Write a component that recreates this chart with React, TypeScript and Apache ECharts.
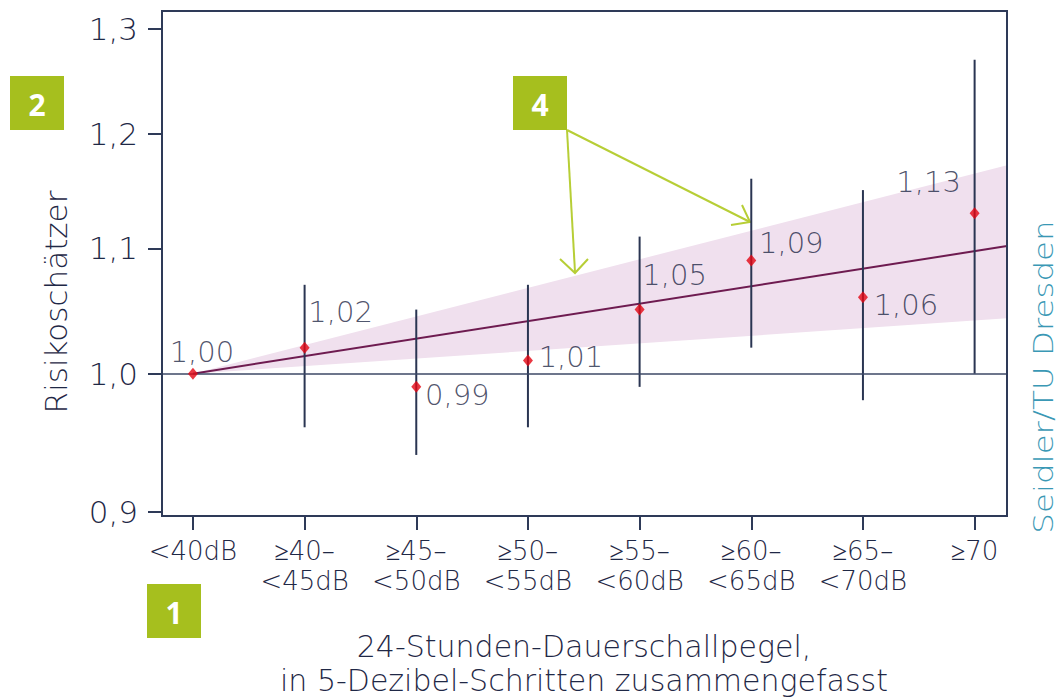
import React, { useEffect, useRef } from 'react';
import * as echarts from 'echarts';

const categories = ['<40dB', '≥40–\n<45dB', '≥45–\n<50dB', '≥50–\n<55dB', '≥55–\n<60dB', '≥60–\n<65dB', '≥65–\n<70dB', '≥70'];
const estimates = [1.0, 1.02, 0.99, 1.01, 1.05, 1.09, 1.06, 1.13];
const ciLower: (number | null)[] = [null, 0.96, 0.94, 0.96, 0.99, 1.02, 0.98, 1.0];
const ciUpper: (number | null)[] = [null, 1.07, 1.05, 1.07, 1.11, 1.16, 1.15, 1.27];
const yTicks = [0.9, 1.0, 1.1, 1.2, 1.3];
const trendX = [0, 7.29];
const trendValues = [1.0, 1.102];
const bandLower = [1.0, 1.043];
const bandUpper = [1.0, 1.172];
const yMin = 0.8973;
const yMax = 1.318;
const xMin = -0.277;
const xMax = 7.29;

const TEXT = '#1f2846';
const AXIS = '#2e3a58';
const FONT = 'DejaVu Sans';
const WEIGHT = 300;
const GREEN = '#a6bf1e';
const ARROW = '#b7ce36';

const labelOffsets: [number, number][] = [
  [9, -22], [36, -36], [41, 8], [43, -4], [35, -35], [40, -17], [43, 8], [-46, -31],
];

function fmt(v: number) {
  return v.toFixed(2).replace('.', ',');
}

function box(x: number, y: number, t: string) {
  return {
    type: 'group',
    x,
    y,
    children: [
      { type: 'rect', shape: { x: 0, y: 0, width: 54, height: 54 }, style: { fill: GREEN } },
      {
        type: 'text',
        x: 27,
        y: 28,
        style: { text: t, fill: '#ffffff', font: `bold 30px "Noto Sans"`, align: 'center', verticalAlign: 'middle' },
      },
    ],
  };
}

export default function App() {
  const ref = useRef<HTMLDivElement>(null);
  useEffect(() => {
    if (!ref.current) return;
    const chart = echarts.init(ref.current, null, { renderer: 'svg' });
    const ln = Math.log;
    const bandData = trendX.map((x, i) => [x, ln(bandLower[i]), ln(bandUpper[i])]);
    const option: any = {
      animation: false,
      backgroundColor: '#ffffff',
      grid: { left: 162, top: 11, right: 53, bottom: 183, show: true, borderColor: AXIS, borderWidth: 2, backgroundColor: 'transparent', z: 10 },
      xAxis: {
        type: 'value',
        min: xMin,
        max: xMax,
        splitLine: { show: false },
        axisLine: { show: false, onZero: false },
        axisTick: { show: true, customValues: categories.map((_, i) => i), length: 14, lineStyle: { color: AXIS, width: 2 } },
        axisLabel: {
          customValues: categories.map((_, i) => i),
          formatter: (v: number) => categories[Math.round(v)] ?? '',
          color: TEXT,
          fontFamily: FONT,
          fontWeight: WEIGHT,
          fontSize: 26,
          lineHeight: 30,
          margin: 20,
          align: 'center',
        },
      },
      yAxis: {
        type: 'value',
        min: ln(yMin),
        max: ln(yMax),
        splitLine: { show: false },
        axisLine: { show: false, onZero: false },
        axisTick: { show: true, customValues: yTicks.map((v) => ln(v)), length: 14, lineStyle: { color: AXIS, width: 2 } },
        axisLabel: {
          customValues: yTicks.map((v) => ln(v)),
          formatter: (v: number) => Math.exp(v).toFixed(1).replace('.', ','),
          color: TEXT,
          fontFamily: FONT,
          fontWeight: WEIGHT,
          fontSize: 31,
          margin: 24,
        },
      },
      graphic: [
        {
          type: 'text',
          x: 56,
          y: 302,
          rotation: Math.PI / 2,
          style: { text: 'Risikoschätzer', fill: TEXT, font: `${WEIGHT} 31px "${FONT}"`, align: 'center', verticalAlign: 'middle' },
        },
        {
          type: 'text',
          x: 1044,
          y: 377,
          rotation: Math.PI / 2,
          scaleX: 1.25,
          style: { text: 'Seidler/TU Dresden', fill: '#3a98b5', font: `${WEIGHT} 26px "${FONT}"`, align: 'center', verticalAlign: 'middle' },
        },
        {
          type: 'text',
          x: 584,
          y: 663,
          style: {
            text: '24-Stunden-Dauerschallpegel,\nin 5-Dezibel-Schritten zusammengefasst',
            fill: TEXT,
            font: `${WEIGHT} 30px "${FONT}"`,
            lineHeight: 34,
            align: 'center',
            verticalAlign: 'middle',
          },
        },
        box(10, 76, '2'),
        box(147, 584, '1'),
        box(513, 76, '4'),
        box(883, 216, '3'),
        { type: 'line', shape: { x1: 567, y1: 130, x2: 575, y2: 272 }, style: { stroke: ARROW, lineWidth: 2 } },
        { type: 'polyline', shape: { points: [[560, 259], [575, 273], [588, 259]] }, style: { stroke: ARROW, lineWidth: 2, fill: 'none' } },
        { type: 'line', shape: { x1: 567, y1: 130, x2: 750, y2: 222 }, style: { stroke: ARROW, lineWidth: 2 } },
        { type: 'polyline', shape: { points: [[742, 205], [750, 222], [731, 225]] }, style: { stroke: ARROW, lineWidth: 2, fill: 'none' } },
      ],
      series: [
        {
          type: 'custom',
          name: 'band',
          silent: true,
          encode: { x: 0, y: [1, 2] },
          data: bandData,
          renderItem: (params: any, api: any) => {
            if (params.dataIndex !== 0) return null;
            const upper = bandData.map((d) => api.coord([d[0], d[2]]));
            const lower = bandData.map((d) => api.coord([d[0], d[1]])).reverse();
            return {
              type: 'polygon',
              shape: { points: upper.concat(lower) },
              style: { fill: '#f0e0ee', stroke: 'none' },
            };
          },
          z: 1,
        },
        {
          type: 'line',
          name: 'trend',
          symbol: 'none',
          silent: true,
          lineStyle: { color: '#6e1b50', width: 2 },
          data: trendX.map((x, i) => [x, ln(trendValues[i])]),
          markLine: {
            silent: true,
            symbol: 'none',
            label: { show: false },
            lineStyle: { color: '#3d4866', width: 1.5, type: 'solid' },
            data: [{ yAxis: 0 }],
          },
          z: 3,
        },
        {
          type: 'custom',
          name: 'ci',
          silent: true,
          encode: { x: 0, y: [1, 2] },
          data: estimates
            .map((_, i) => (ciLower[i] == null ? null : [i, ln(ciLower[i] as number), ln(ciUpper[i] as number)]))
            .filter((d) => d !== null),
          renderItem: (params: any, api: any) => {
            const p1 = api.coord([api.value(0), api.value(1)]);
            const p2 = api.coord([api.value(0), api.value(2)]);
            return {
              type: 'line',
              shape: { x1: p1[0], y1: p1[1], x2: p2[0], y2: p2[1] },
              style: { stroke: '#2a3552', lineWidth: 2 },
            };
          },
          z: 4,
        },
        {
          type: 'scatter',
          name: 'estimates',
          symbol: 'diamond',
          symbolSize: [10, 12],
          itemStyle: { color: '#e30613' },
          data: estimates.map((v, i) => ({
            value: [i, ln(v)],
            label: {
              show: true,
              position: 'inside',
              offset: labelOffsets[i],
              formatter: fmt(v),
              color: TEXT,
              fontFamily: FONT,
              fontWeight: WEIGHT,
              fontSize: 29,
            },
          })),
          z: 5,
        },
      ],
    };
    chart.setOption(option);
    return () => chart.dispose();
  }, []);
  return <div ref={ref} style={{ position: 'fixed', left: 0, top: 0, width: 1060, height: 699, background: '#fff' }} />;
}
